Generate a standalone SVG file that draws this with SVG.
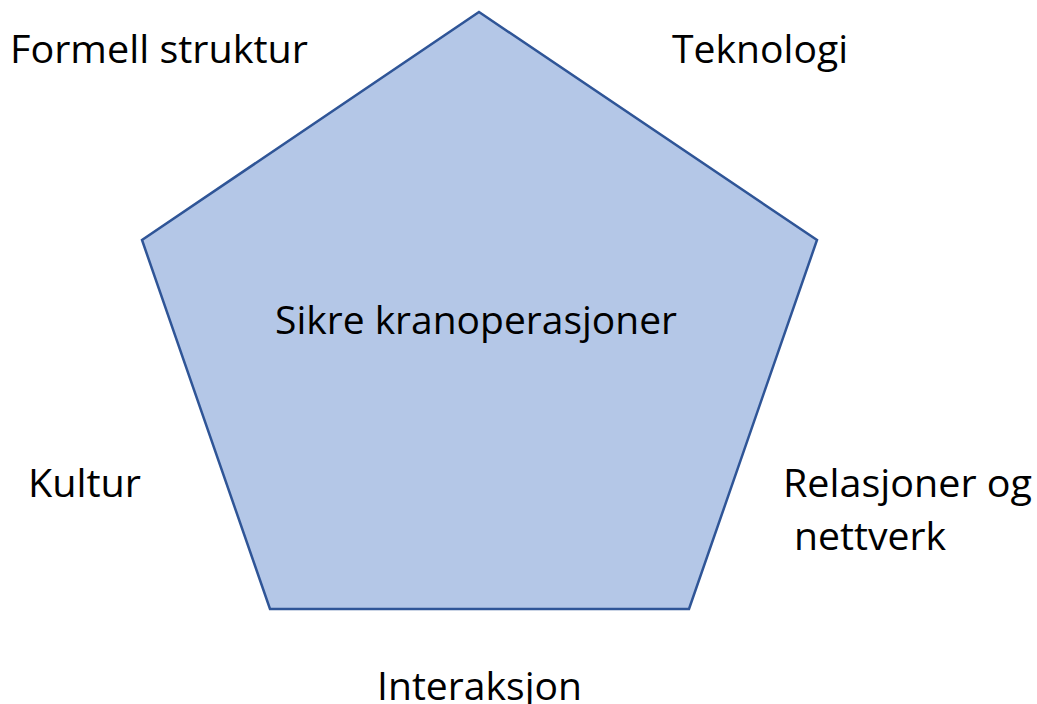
<svg xmlns="http://www.w3.org/2000/svg" width="1037" height="704" viewBox="0 0 1037 704">
  <style>
    .lbl { font-family: "Open Sans", "Liberation Sans", sans-serif; font-size: 38px; fill: #000; }
    .shape { fill: #B4C7E7; stroke: #2F5597; stroke-width: 2.5; stroke-linejoin: miter; }
  </style>
  <rect width="1037" height="704" fill="#fff"/>
  <g id="center">
    <polygon class="shape" points="479,12 817,240 689,609 270,609 142,240"/>
    <text class="lbl" x="275" y="334" textLength="402" lengthAdjust="spacingAndGlyphs">Sikre kranoperasjoner</text>
  </g>
  <g id="formell-struktur">
    <text class="lbl" x="10" y="63" textLength="298" lengthAdjust="spacingAndGlyphs">Formell struktur</text>
  </g>
  <g id="teknologi">
    <text class="lbl" x="672" y="63" textLength="176" lengthAdjust="spacingAndGlyphs">Teknologi</text>
  </g>
  <g id="kultur">
    <text class="lbl" x="28" y="497" textLength="113" lengthAdjust="spacingAndGlyphs">Kultur</text>
  </g>
  <g id="relasjoner">
    <text class="lbl" x="783" y="497" textLength="249" lengthAdjust="spacingAndGlyphs">Relasjoner og</text>
    <text class="lbl" x="794" y="550" textLength="152" lengthAdjust="spacingAndGlyphs">nettverk</text>
  </g>
  <g id="interaksjon">
    <text class="lbl" x="377" y="700" textLength="205" lengthAdjust="spacingAndGlyphs">Interaksjon</text>
  </g>
  <g id="connectors"></g>
</svg>
